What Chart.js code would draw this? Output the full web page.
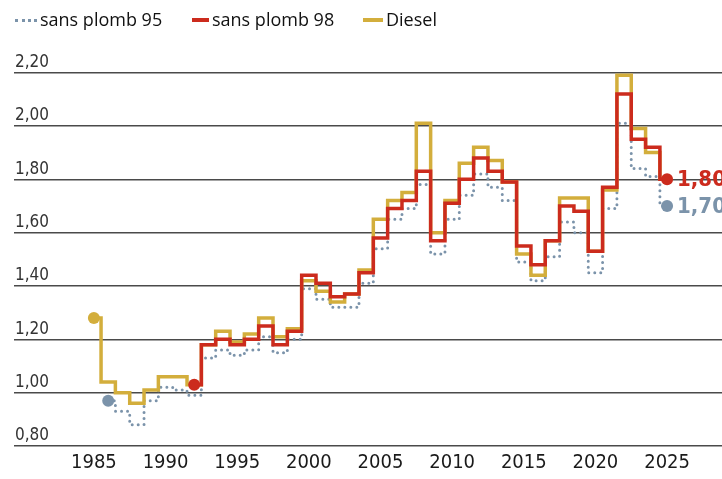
<!DOCTYPE html>
<html>
<head>
<meta charset="utf-8">
<script src="https://cdn.jsdelivr.net/npm/chart.js@4/dist/chart.umd.min.js"></script>
<style>
  html, body { margin: 0; padding: 0; background: #fff; }
  #wrap { position: relative; width: 722px; height: 479px; }
  #legend { position: absolute; left: 15px; top: 7px; font-family: "Open Sans", sans-serif; font-size: 18px; line-height: 24px; color: #111; white-space: nowrap; }
  #legend span.item { position: absolute; top: 0; }
  #legend i { display: inline-block; vertical-align: middle; margin-right: 3px; position: relative; top: -1px; }
  #legend i.dot { border-top: 3px dotted #7b93aa; width: 22px; }
  #legend i.red { border-top: 4px solid #cc2b1d; width: 17px; }
  #legend i.gold { border-top: 4px solid #d3ae3c; width: 20px; }
</style>
</head>
<body>
<div id="wrap">
  <canvas id="fuelChart" width="722" height="479"></canvas>
  <div id="legend">
    <span class="item" style="left:0px"><i class="dot"></i>sans plomb 95</span>
    <span class="item" style="left:177px"><i class="red"></i>sans plomb 98</span>
    <span class="item" style="left:348px"><i class="gold"></i>Diesel</span>
  </div>
</div>
<script>
// years 1985 .. 2025, null = no data that year
var years = [];
for (var y = 1985; y <= 2025; y++) years.push(y);

var diesel = [1.28, 1.04, 1.00, 0.96, 1.01, 1.06, 1.06, 1.03, 1.18, 1.23,
              1.19, 1.22, 1.28, 1.21, 1.24, 1.42, 1.38, 1.34, 1.37, 1.46,
              1.65, 1.72, 1.75, 2.01, 1.60, 1.72, 1.86, 1.92, 1.87, 1.79,
              1.52, 1.44, 1.57, 1.73, 1.73, 1.53, 1.76, 2.19, 1.99, 1.90,
              1.80];

var sp95 = [null, 0.97, 0.93, 0.88, 0.97, 1.02, 1.01, 0.99, 1.13, 1.16,
            1.14, 1.16, 1.21, 1.15, 1.20, 1.39, 1.35, 1.32, 1.32, 1.41,
            1.54, 1.65, 1.69, 1.78, 1.52, 1.65, 1.74, 1.82, 1.77, 1.72,
            1.49, 1.42, 1.51, 1.64, 1.60, 1.45, 1.69, 2.01, 1.84, 1.81,
            1.70];

var sp98 = [null, null, null, null, null, null, null, 1.03, 1.18, 1.20,
            1.18, 1.20, 1.25, 1.18, 1.23, 1.44, 1.41, 1.36, 1.37, 1.45,
            1.58, 1.69, 1.72, 1.83, 1.57, 1.71, 1.80, 1.88, 1.83, 1.79,
            1.55, 1.48, 1.57, 1.70, 1.68, 1.53, 1.77, 2.12, 1.95, 1.92,
            1.80];

var yearTicks = [1985, 1990, 1995, 2000, 2005, 2010, 2015, 2020, 2025];
var priceTicks = [0.8, 1.0, 1.2, 1.4, 1.6, 1.8, 2.0, 2.2];

function toPoints(values) {
    var pts = [];
    for (var i = 0; i < years.length; i++) {
        if (values[i] !== null) pts.push({ x: years[i], y: values[i] });
    }
    return pts;
}

// dot only on first point and/or last point
function edgeDots(first, last) {
    return function(ctx) {
        var n = ctx.dataset.data.length;
        if (first && ctx.dataIndex === 0) return 6;
        if (last && ctx.dataIndex === n - 1) return 6;
        return 0;
    };
}

function fmt(v) {
    return v.toFixed(2).replace('.', ',');
}

// value labels next to the last points
var endLabels = {
    id: 'endLabels',
    afterDatasetsDraw: function(chart) {
        var ctx = chart.ctx;
        chart.data.datasets.forEach(function(ds, i) {
            if (!ds.endLabel) return;
            var meta = chart.getDatasetMeta(i);
            var pt = meta.data[meta.data.length - 1];
            var val = ds.data[ds.data.length - 1].y;
            ctx.save();
            ctx.font = 'bold 22px "DejaVu Sans Condensed", "DejaVu Sans", sans-serif';
            ctx.fillStyle = ds.borderColor;
            ctx.textBaseline = 'middle';
            ctx.textAlign = 'left';
            ctx.fillText(fmt(val), pt.x + 10, pt.y + 1);
            ctx.restore();
        });
    }
};

var fuelChart = document.getElementById("fuelChart");
var myChart = new Chart(fuelChart, {
    type: 'line',
    data: {
        datasets: [{
            label: 'sans plomb 98',
            data: toPoints(sp98),
            borderColor: '#cc2b1d',
            backgroundColor: '#cc2b1d',
            borderWidth: 3.5,
            stepped: 'middle',
            pointRadius: edgeDots(true, true),
            pointBorderWidth: 0,
            endLabel: true,
            order: 0
        }, {
            label: 'Diesel',
            data: toPoints(diesel),
            borderColor: '#d3ae3c',
            backgroundColor: '#d3ae3c',
            borderWidth: 3.5,
            stepped: 'middle',
            pointRadius: edgeDots(true, false),
            pointBorderWidth: 0,
            order: 1
        }, {
            label: 'sans plomb 95',
            data: toPoints(sp95),
            borderColor: '#7b93aa',
            backgroundColor: '#7b93aa',
            borderWidth: 3,
            borderDash: [0, 6],
            borderCapStyle: 'round',
            stepped: 'middle',
            pointRadius: edgeDots(true, true),
            pointBorderWidth: 0,
            endLabel: true,
            order: 2
        }]
    },
    options: {
        responsive: false,
        animation: false,
        layout: {
            autoPadding: false,
            padding: { left: 12, right: 0, top: 72.6, bottom: 0 }
        },
        plugins: {
            legend: { display: false },
            tooltip: { enabled: false }
        },
        scales: {
            x: {
                type: 'linear',
                min: 1979.425,
                max: 2028.833,
                afterBuildTicks: function(scale) {
                    scale.ticks = yearTicks.map(function(v) { return { value: v }; });
                },
                grid: { display: false, drawTicks: false },
                border: { display: false },
                ticks: {
                    padding: 6.5,
                    color: '#1a1a1a',
                    font: { family: '"DejaVu Sans Condensed", "DejaVu Sans", sans-serif', size: 20, lineHeight: 1 },
                    callback: function(v) { return String(v); }
                }
            },
            y: {
                min: 0.8,
                max: 2.2,
                afterBuildTicks: function(scale) {
                    scale.ticks = priceTicks.map(function(v) { return { value: v }; });
                },
                grid: { color: '#4a4a4a', lineWidth: 1.4, drawTicks: false },
                border: { display: false },
                ticks: {
                    mirror: true,
                    padding: 1,
                    labelOffset: -10,
                    color: '#333',
                    font: { family: '"DejaVu Sans Condensed", "DejaVu Sans", sans-serif', size: 17 },
                    callback: function(v) { return fmt(v); }
                }
            }
        }
    },
    plugins: [endLabels]
});
</script>
</body>
</html>
